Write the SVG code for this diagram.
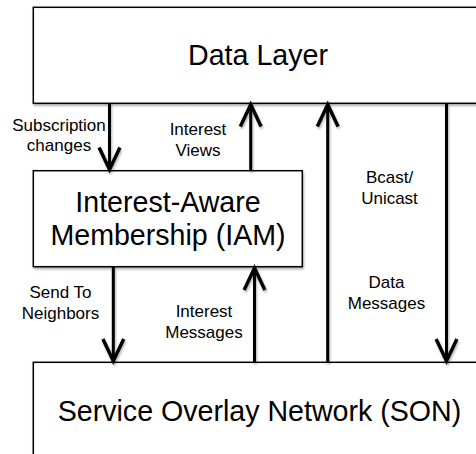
<svg xmlns="http://www.w3.org/2000/svg" width="476" height="454" viewBox="0 0 476 454">
<defs>
<style>
.box{fill:#fff;stroke:#000;stroke-width:1.5;filter:url(#sh)}
.main{font-family:"Liberation Sans",Arial,sans-serif;font-size:28.6px;fill:#000;text-anchor:middle}
.lbl{font-family:"Liberation Sans",Arial,sans-serif;font-size:17px;fill:#000;text-anchor:middle}
.con{stroke:#000;stroke-width:3;fill:none;marker-end:url(#ah)}
</style>
<filter id="sh" x="-10%" y="-10%" width="130%" height="130%">
<feDropShadow dx="1" dy="2" stdDeviation="1.2" flood-color="#000" flood-opacity="0.3"/>
</filter>
<marker id="ah" markerUnits="userSpaceOnUse" markerWidth="30" markerHeight="30" viewBox="-22 -12 26 24" refX="0" refY="0" orient="auto">
<path d="M-19,-9 L0,0 L-19,9" fill="none" stroke="#000" stroke-width="3" stroke-linejoin="miter"/>
</marker>
</defs>
<g id="data-layer">
<rect class="box" x="33.3" y="7.3" width="460" height="96"/>
<text class="main" x="258" y="65">Data Layer</text>
</g>
<g id="iam">
<rect class="box" x="33.3" y="170.7" width="269" height="96"/>
<text class="main" x="168" y="211.5">Interest-Aware</text>
<text class="main" x="168" y="245">Membership (IAM)</text>
</g>
<g id="son">
<rect class="box" x="33.3" y="362.3" width="460" height="110"/>
<text class="main" x="259.5" y="420.7">Service Overlay Network (SON)</text>
</g>
<g id="connectors" filter="url(#sh)">
<line class="con" x1="109.5" y1="103" x2="109.5" y2="169.5"/>
<line class="con" x1="250.7" y1="170.7" x2="250.7" y2="104.5"/>
<line class="con" x1="327.7" y1="362.3" x2="327.7" y2="104.5"/>
<line class="con" x1="446.5" y1="103" x2="446.5" y2="361"/>
<line class="con" x1="113.3" y1="266.7" x2="113.3" y2="361"/>
<line class="con" x1="254.5" y1="362.3" x2="254.5" y2="268"/>
</g>
<g id="labels">
<text class="lbl" x="59" y="130.5">Subscription</text>
<text class="lbl" x="59" y="151">changes</text>
<text class="lbl" x="198" y="135">Interest</text>
<text class="lbl" x="198" y="155.5">Views</text>
<text class="lbl" x="389.5" y="183.3">Bcast/</text>
<text class="lbl" x="389.5" y="204">Unicast</text>
<text class="lbl" x="386.5" y="288">Data</text>
<text class="lbl" x="386.5" y="309">Messages</text>
<text class="lbl" x="60.5" y="298.3">Send To</text>
<text class="lbl" x="60.5" y="319.3">Neighbors</text>
<text class="lbl" x="204" y="316.7">Interest</text>
<text class="lbl" x="204" y="337.5">Messages</text>
</g>
</svg>
